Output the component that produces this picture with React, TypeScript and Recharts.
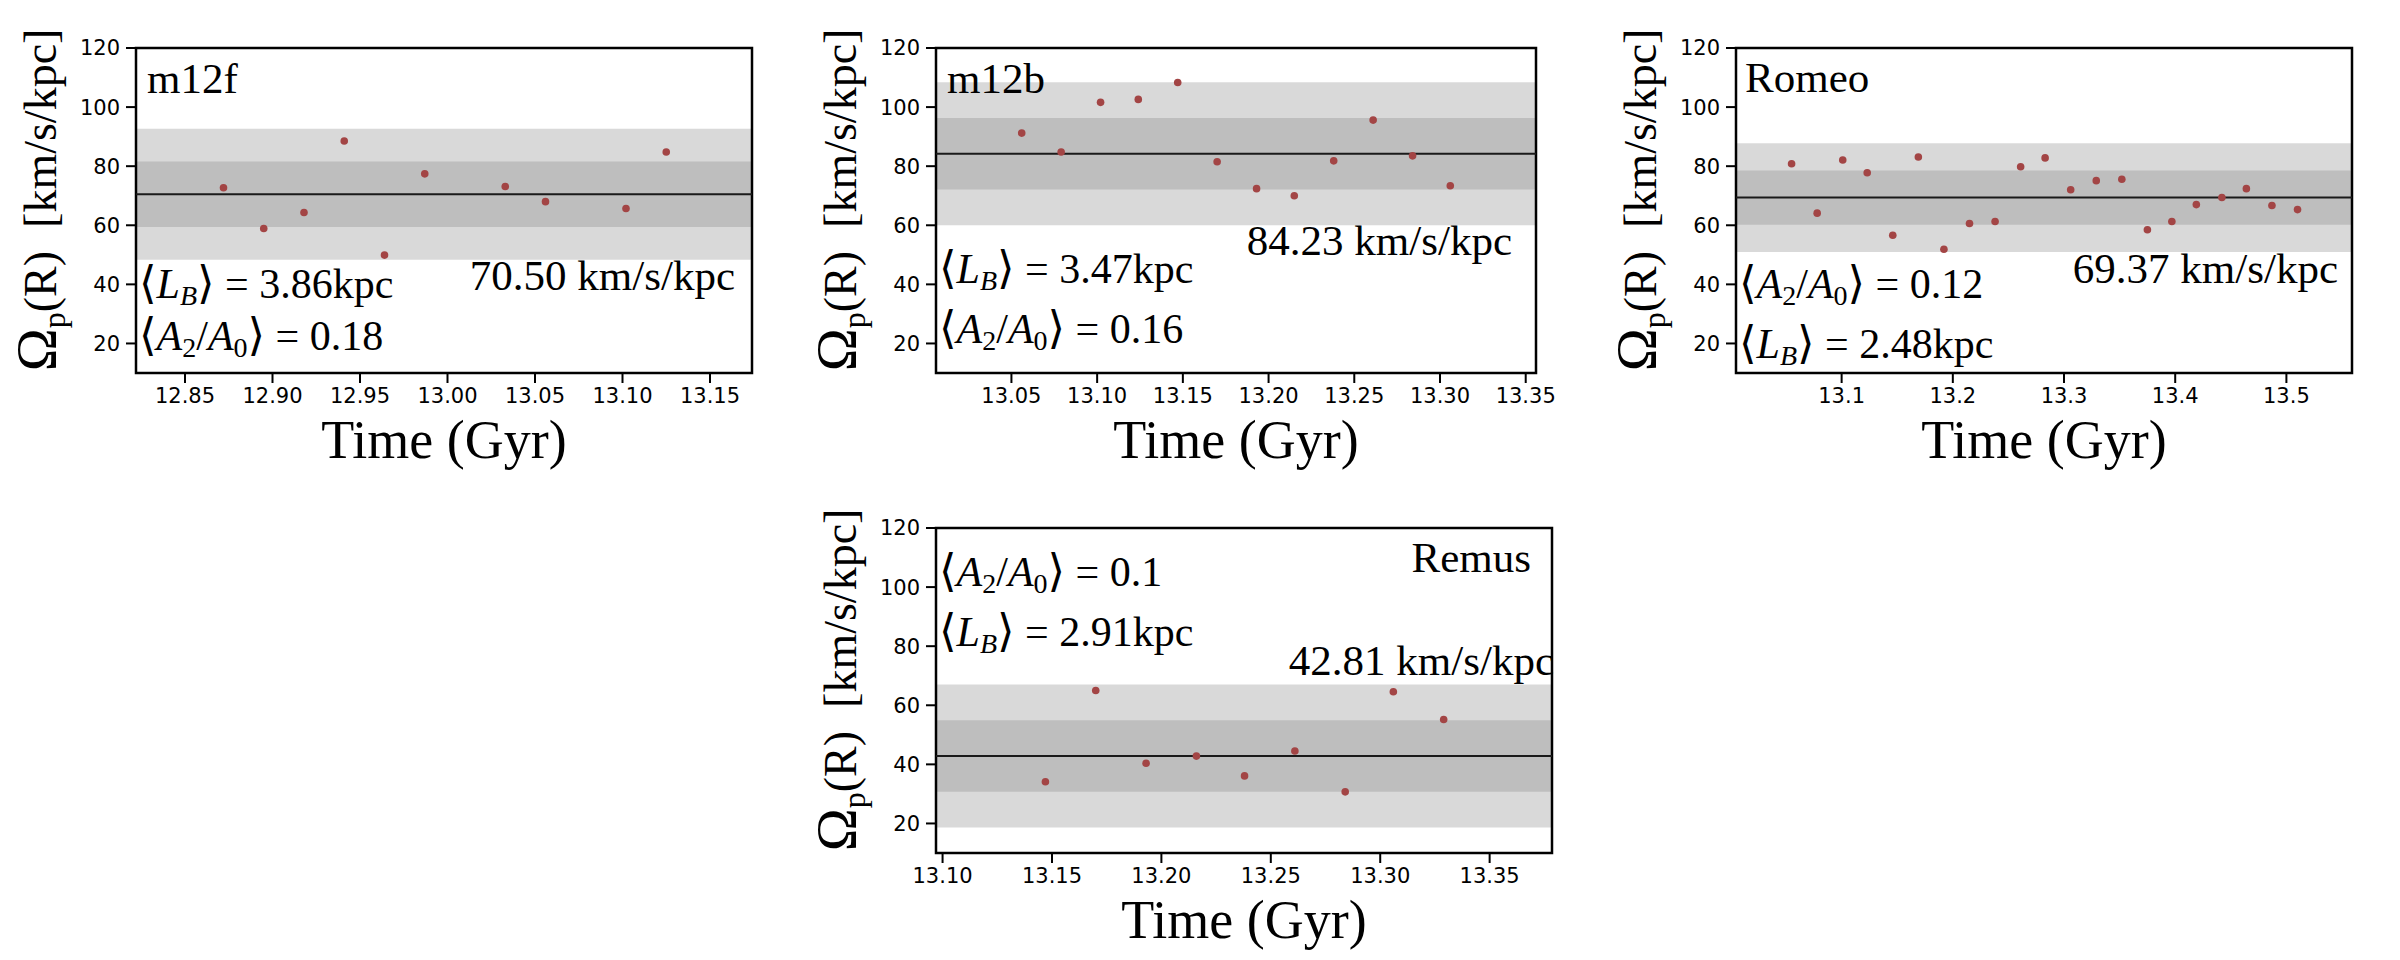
import React from 'react';
import { ScatterChart, Scatter, XAxis, YAxis, ReferenceArea, ReferenceLine } from 'recharts';

// pattern speed samples (time in Gyr, omega in km/s/kpc)
const m12fTime = [12.872, 12.895, 12.918, 12.941, 12.964, 12.987, 13.033, 13.056, 13.102, 13.125];
const m12fOmega = [72.7, 58.9, 64.3, 88.5, 49.9, 77.4, 73.1, 68.0, 65.7, 84.8];

const m12bTime = [13.056, 13.079, 13.102, 13.124, 13.147, 13.17, 13.193, 13.215, 13.238, 13.261, 13.284, 13.306];
const m12bOmega = [91.2, 84.8, 101.6, 102.6, 108.3, 81.5, 72.4, 70.0, 81.8, 95.6, 83.5, 73.4];

const romeoTime = [
  13.055, 13.078, 13.101, 13.123, 13.146, 13.169, 13.192, 13.215, 13.238, 13.261, 13.283,
  13.306, 13.329, 13.352, 13.375, 13.397, 13.419, 13.442, 13.464, 13.487, 13.51,
];
const romeoOmega = [
  80.8, 64.1, 82.1, 77.8, 56.6, 83.1, 51.9, 60.6, 61.3, 79.8, 82.8,
  72.0, 75.1, 75.6, 58.5, 61.3, 67.0, 69.4, 72.4, 66.7, 65.3,
];

const remusTime = [13.147, 13.17, 13.193, 13.216, 13.238, 13.261, 13.284, 13.306, 13.329];
const remusOmega = [34.1, 65.0, 40.4, 42.8, 36.1, 44.5, 30.7, 64.6, 55.2];

// per-galaxy summary values (order: m12f, m12b, Romeo, Remus)
const names = ['m12f', 'm12b', 'Romeo', 'Remus'];
const means = [70.5, 84.23, 69.37, 42.81];
const sigmas = [11.1, 12.1, 9.2, 12.1];
const barLengths = ['3.86', '3.47', '2.48', '2.91'];
const barStrengths = ['0.18', '0.16', '0.12', '0.1'];

// axis ticks and limits
const m12fTicks = [12.85, 12.9, 12.95, 13.0, 13.05, 13.1, 13.15];
const m12bTicks = [13.05, 13.1, 13.15, 13.2, 13.25, 13.3, 13.35];
const romeoTicks = [13.1, 13.2, 13.3, 13.4, 13.5];
const remusTicks = [13.1, 13.15, 13.2, 13.25, 13.3, 13.35];
const m12fRange = [12.822, 13.174];
const m12bRange = [13.006, 13.356];
const romeoRange = [13.005, 13.559];
const remusRange = [13.097, 13.3785];
const yTicks = [20, 40, 60, 80, 100, 120];
const yRange = [10, 120];

const SERIF = "'Liberation Serif', 'DejaVu Serif', serif";
const SANS = "'DejaVu Sans', sans-serif";
const DOT = '#a34545';

const panels = [
  { ox: 0, oy: 0, right: 752, time: m12fTime, omega: m12fOmega, ticks: m12fTicks, range: m12fRange, dec: 2 },
  { ox: 800, oy: 0, right: 736, time: m12bTime, omega: m12bOmega, ticks: m12bTicks, range: m12bRange, dec: 2 },
  { ox: 1600, oy: 0, right: 752, time: romeoTime, omega: romeoOmega, ticks: romeoTicks, range: romeoRange, dec: 1 },
  { ox: 800, oy: 480, right: 752, time: remusTime, omega: remusOmega, ticks: remusTicks, range: remusRange, dec: 2 },
];

// where the annotations sit inside each panel cell (x, baseline)
const layouts = [
  { name: [147, 93, 'start'], speed: [735, 290], lb: [139, 298], a2: [139, 350] },
  { name: [147, 93, 'start'], speed: [712, 255], lb: [139, 283], a2: [139, 343] },
  { name: [145, 92, 'start'], speed: [738, 283], lb: [139, 358], a2: [139, 298] },
  { name: [731, 92, 'end'], speed: [754, 195], lb: [139, 166], a2: [139, 106] },
];

const renderDot = (props: any) => <circle cx={props.cx} cy={props.cy} r={3.8} fill={DOT} />;

function Panel({ p, i }: { p: any; i: number }) {
  const data = p.time.map((t: number, k: number) => ({ t, w: p.omega[k] }));
  const mean = means[i];
  const sd = sigmas[i];
  return (
    <div style={{ position: 'absolute', left: p.ox, top: p.oy }}>
      <ScatterChart width={800} height={480} margin={{ top: 48, right: 800 - p.right, bottom: 62, left: 66 }}>
        <XAxis
          type="number"
          dataKey="t"
          domain={p.range}
          ticks={p.ticks}
          interval={0}
          allowDataOverflow
          tickFormatter={(v: number) => v.toFixed(p.dec)}
          height={45}
          tickSize={10}
          tickMargin={5}
          axisLine={false}
          tickLine={{ stroke: '#000', strokeWidth: 2 }}
          tick={{ fontSize: 21, fill: '#000', fontFamily: SANS }}
        />
        <YAxis
          type="number"
          dataKey="w"
          domain={yRange}
          ticks={yTicks}
          interval={0}
          allowDataOverflow
          width={70}
          tickSize={10}
          tickMargin={6}
          axisLine={false}
          tickLine={{ stroke: '#000', strokeWidth: 2 }}
          tick={{ fontSize: 21, fill: '#000', fontFamily: SANS }}
        />
        <ReferenceArea y1={mean - 2 * sd} y2={mean + 2 * sd} fill="#808080" fillOpacity={0.3} stroke="none" />
        <ReferenceArea y1={mean - sd} y2={mean + sd} fill="#808080" fillOpacity={0.3} stroke="none" />
        <ReferenceLine y={mean} stroke="#1a1a1a" strokeWidth={2} />
        <Scatter data={data} dataKey="w" isAnimationActive={false} shape={renderDot} />
        <ReferenceArea
          x1={p.range[0]}
          x2={p.range[1]}
          y1={yRange[0]}
          y2={yRange[1]}
          fill="none"
          stroke="#000"
          strokeWidth={2.5}
        />
      </ScatterChart>
    </div>
  );
}

// tall angle brackets like the LaTeX \langle \rangle
const Open = () => <tspan style={{ fontFamily: "'DejaVu Serif', serif", fontSize: 45 }}>⟨</tspan>;
const Close = ({ dy }: { dy: number }) => (
  <tspan dy={dy} style={{ fontFamily: "'DejaVu Serif', serif", fontSize: 45 }}>⟩</tspan>
);

function Annotations({ p, i }: { p: any; i: number }) {
  const L = layouts[i];
  const ox = p.ox;
  const oy = p.oy;
  const cx = ox + (136 + p.right) / 2;
  const serif = { fontFamily: SERIF };
  const sub = 28;
  return (
    <g fill="#000">
      <text x={ox + L.name[0]} y={oy + L.name[1]} fontSize={43} textAnchor={L.name[2]} style={serif}>
        {names[i]}
      </text>
      <text x={ox + L.speed[0]} y={oy + L.speed[1]} fontSize={43} textAnchor="end" style={serif}>
        {`${means[i].toFixed(2)} km/s/kpc`}
      </text>
      <text x={ox + L.lb[0]} y={oy + L.lb[1]} fontSize={42} style={serif}>
        <Open />
        <tspan fontStyle="italic">L</tspan>
        <tspan fontStyle="italic" fontSize={sub} dy={7}>B</tspan>
        <Close dy={-7} />
        <tspan>{` = ${barLengths[i]}kpc`}</tspan>
      </text>
      <text x={ox + L.a2[0]} y={oy + L.a2[1]} fontSize={42} style={serif}>
        <Open />
        <tspan fontStyle="italic">A</tspan>
        <tspan fontSize={sub} dy={7}>2</tspan>
        <tspan dy={-7}>/</tspan>
        <tspan fontStyle="italic">A</tspan>
        <tspan fontSize={sub} dy={7}>0</tspan>
        <Close dy={-7} />
        <tspan>{` = ${barStrengths[i]}`}</tspan>
      </text>
      <text x={cx} y={oy + 458} fontSize={54} textAnchor="middle" style={serif}>
        Time (Gyr)
      </text>
      <text
        transform={`translate(${ox + 56},${oy + 200}) rotate(-90)`}
        fontSize={46}
        textAnchor="middle"
        style={serif}
      >
        <tspan fontSize={58}>Ω</tspan>
        <tspan fontSize={32} dy={9}>p</tspan>
        <tspan dy={-9}>{'(R) \u00a0[km/s/kpc]'}</tspan>
      </text>
    </g>
  );
}

export default function App() {
  return (
    <div style={{ position: 'absolute', left: 0, top: 0, width: 2400, height: 960, background: '#fff', overflow: 'hidden' }}>
      {panels.map((p, i) => (
        <Panel key={names[i]} p={p} i={i} />
      ))}
      <svg width={2400} height={960} style={{ position: 'absolute', left: 0, top: 0, pointerEvents: 'none' }}>
        {panels.map((p, i) => (
          <Annotations key={names[i]} p={p} i={i} />
        ))}
      </svg>
    </div>
  );
}
